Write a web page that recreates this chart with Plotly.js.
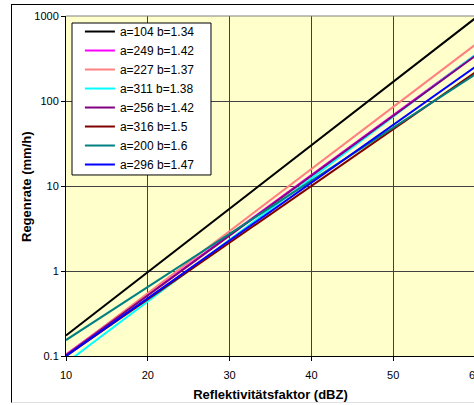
<!DOCTYPE html>
<html>
<head>
<meta charset="utf-8">
<script src="https://cdn.plot.ly/plotly-3.0.1.min.js"></script>
<style>
html,body{margin:0;padding:0;width:474px;height:405px;overflow:hidden;background:#fff;}
#frame{position:absolute;left:11px;top:4px;width:600px;height:397px;border-left:1px solid #000;border-top:1px solid #000;border-bottom:1px solid #e0e0e0;}
#chart{position:absolute;left:0;top:0;width:490px;height:405px;}
</style>
</head>
<body>
<div id="frame"></div>
<div id="chart"></div>
<script>
// Reflectivity (dBZ) sample points
const dbz = [10, 20, 30, 40, 50, 60];
// Series names (Z = a R^b)
const names = ["a=104 b=1.34","a=249 b=1.42","a=227 b=1.37","a=311 b=1.38","a=256 b=1.42","a=316 b=1.5","a=200 b=1.6","a=296 b=1.47"];
const colors = ["#000000","#FF00FF","#FF8080","#00FFFF","#800080","#800000","#008080","#0000FF"];
// Rain rate values (mm/h)
const r104_134 = [0.174, 0.971, 5.42, 30.2, 168, 938];
const r249_142 = [0.104, 0.526, 2.66, 13.5, 68.2, 345];
const r227_137 = [0.102, 0.550, 2.95, 15.85, 85.1, 457];
const r311_138 = [0.0828, 0.439, 2.33, 12.4, 65.6, 348];
const r256_142 = [0.102, 0.516, 2.61, 13.2, 66.9, 338];
const r316_150 = [0.100, 0.464, 2.16, 10.0, 46.4, 216];
const r200_160 = [0.154, 0.648, 2.73, 11.5, 48.6, 205];
const r296_147 = [0.0998, 0.478, 2.29, 11.0, 52.5, 251];
const series = [r104_134, r249_142, r227_137, r311_138, r256_142, r316_150, r200_160, r296_147];
const yTicks = [0.1, 1, 10, 100, 1000];
const yTickText = ["0.1", "1", "10", "100", "1000"];

const traces = series.map((ys, i) => ({
  x: dbz, y: ys, name: names[i], type: "scatter", mode: "lines",
  line: {color: colors[i], width: 2}
}));

const layout = {
  width: 490, height: 405,
  margin: {l: 66, r: 15, t: 16, b: 49, pad: 0},
  paper_bgcolor: "rgba(0,0,0,0)",
  plot_bgcolor: "#FFFFCC",
  font: {family: "Liberation Sans, Arial, sans-serif", size: 11, color: "#000"},
  showlegend: true,
  legend: {
    x: 0.034, y: 0.997, xanchor: "left", yanchor: "top",
    bgcolor: "rgba(0,0,0,0)", borderwidth: 0,
    font: {size: 12, color: "#000"}, tracegroupgap: 0, itemwidth: 30
  },
  xaxis: {
    range: [10, 60], tickvals: dbz, ticktext: dbz.map(String),
    showgrid: true, gridcolor: "#404040", gridwidth: 1,
    zeroline: false, showline: true, linecolor: "#000", linewidth: 1,
    ticks: "outside", ticklen: 4, tickcolor: "#000", ticklabeloverflow: "allow",
    ticklabelstandoff: 5,
    title: {text: "<b>Reflektivitätsfaktor (dBZ)</b>", font: {size: 13}, standoff: 9}
  },
  yaxis: {
    type: "log", range: [-1, 3], tickvals: yTicks, ticktext: yTickText,
    showgrid: true, gridcolor: "#404040", gridwidth: 1,
    zeroline: false, showline: true, linecolor: "#000", linewidth: 1,
    ticks: "outside", ticklen: 4, tickcolor: "#000"
  },
  annotations: [
    {text: "<b>Regenrate (mm/h)</b>", xref: "paper", yref: "paper", x: -0.0978, y: 0.5,
     xanchor: "center", yanchor: "middle", textangle: -90, showarrow: false, font: {size: 13}}
  ],
  shapes: [
    {type: "line", xref: "paper", yref: "paper", x0: 0, x1: 1, y0: 1, y1: 1, line: {color: "#808080", width: 1}},
    {type: "rect", xref: "paper", yref: "paper", x0: 0.01467, x1: 0.3545, y0: 0.5324, y1: 0.9794,
     fillcolor: "#FFFFFF", line: {color: "#000000", width: 1}, layer: "above"}
  ]
};

Plotly.newPlot("chart", traces, layout, {displayModeBar: false, staticPlot: true});
</script>
</body>
</html>
